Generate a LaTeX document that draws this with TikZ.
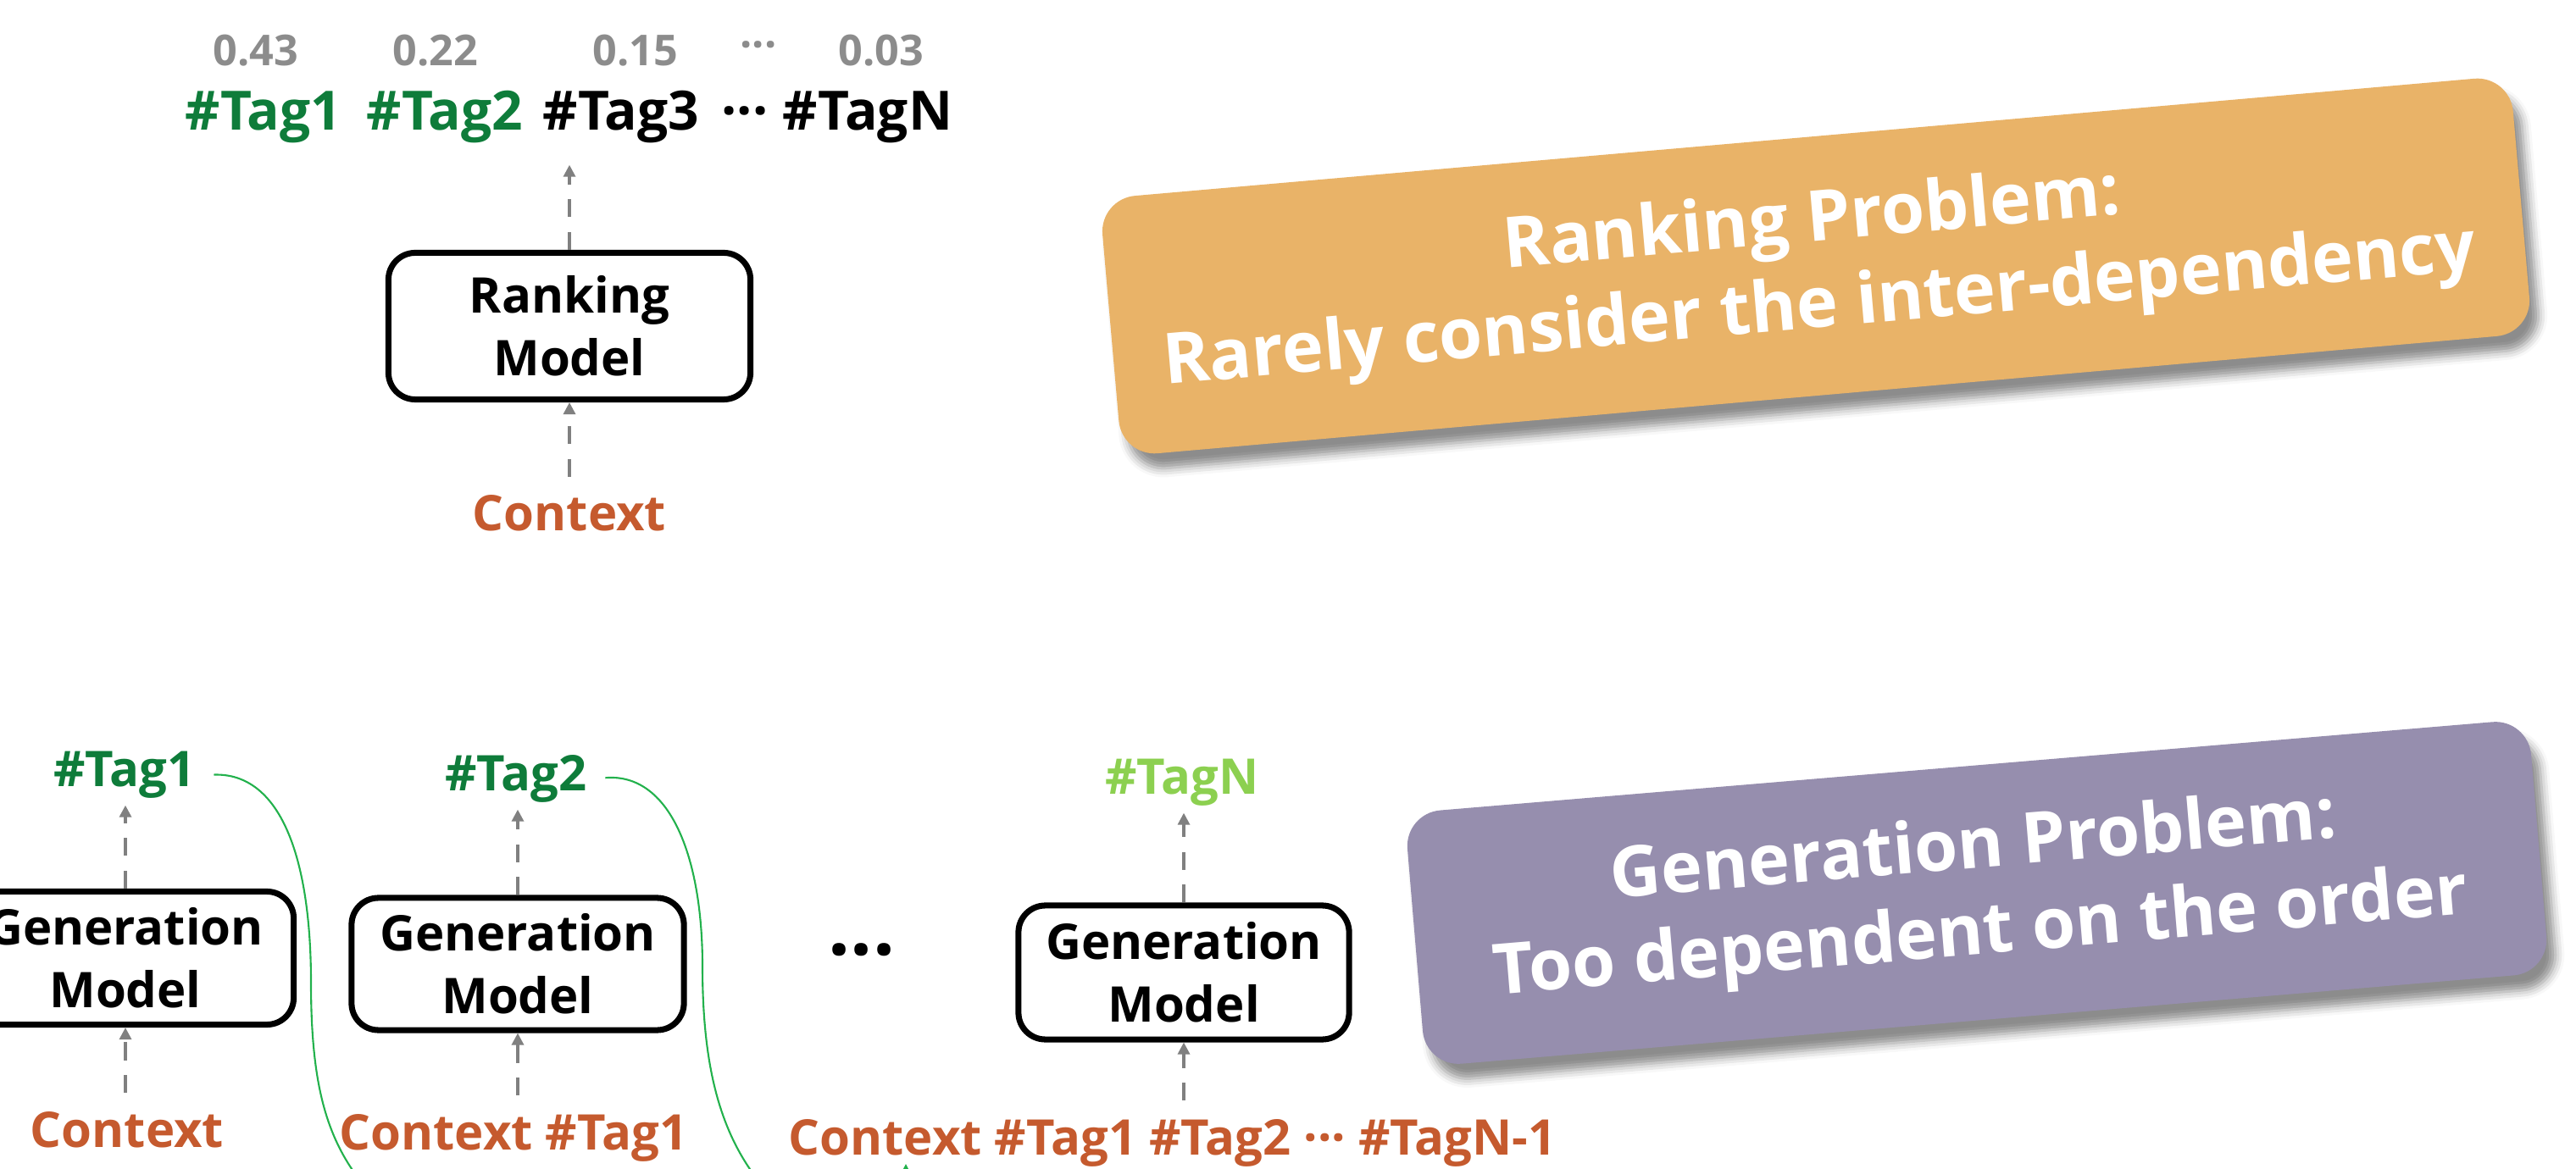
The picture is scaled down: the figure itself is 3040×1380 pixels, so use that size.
\documentclass[tikz,border=0pt]{standalone}
\usepackage{fontspec}
\setmainfont{Open Sans}
\usepackage{tikz}
\usetikzlibrary{arrows.meta,positioning,shadows.blur}
\definecolor{tagGreen}{RGB}{14,124,58}
\definecolor{tagLime}{RGB}{140,208,80}
\definecolor{ctxOrange}{RGB}{197,90,46}
\definecolor{scoreGray}{RGB}{140,140,140}
\definecolor{linkGreen}{RGB}{34,177,76}
\definecolor{rankOrange}{RGB}{233,179,104}
\definecolor{genPurple}{RGB}{150,142,174}
\newcommand{\midots}{···}
\tikzset{
  model/.style={draw,line width=2pt,rounded corners=9pt,align=center,inner sep=0pt,
    font=\fontsize{16.5}{21}\selectfont\bfseries},
  tagtxt/.style={anchor=base,inner sep=0pt,font=\fontsize{18.2}{20}\selectfont\bfseries},
  gentag/.style={anchor=base,inner sep=0pt,font=\fontsize{16.5}{20}\selectfont\bfseries},
  score/.style={inner sep=0pt,text=scoreGray,font=\fontsize{14.3}{16}\selectfont\bfseries},
  ctxtxt/.style={anchor=base,inner sep=0pt,text=ctxOrange,font=\fontsize{16.5}{20}\selectfont\bfseries},
  flow/.style={draw=gray,line width=0.9pt,dash pattern=on 6pt off 5pt,-{Triangle[width=4pt,length=4pt]}},
  link/.style={draw=linkGreen,line width=0.6pt,-{Triangle[width=5pt,length=5pt]}},
  problem/.style={rounded corners=12pt,text=white,align=center,inner sep=0pt,
    font=\fontsize{23.6}{29}\selectfont\bfseries,
    blur shadow={shadow xshift=3pt,shadow yshift=-5pt,shadow blur radius=3pt,shadow opacity=45}},
}
\begin{document}
\begin{tikzpicture}[x=0.01cm,y=-0.01cm]
\useasboundingbox (0,0) rectangle (3040,1380);
\clip (0,0) rectangle (3040,1380);

% ranking
\node[score] (s1) at (302,60) {0.43};
\node[score] (s2) at (514,60) {0.22};
\node[score] (s3) at (750,60) {0.15};
\node[score] (sdots) at (895,60) {\midots};
\node[score] (s4) at (1040,60) {0.03};
\node[tagtxt,text=tagGreen] (t1) at (311,154) {\#Tag1};
\node[tagtxt,text=tagGreen] (t2) at (525,154) {\#Tag2};
\node[tagtxt] (t3) at (733,154) {\#Tag3};
\node[tagtxt] (tdots) at (879,154) {\midots};
\node[tagtxt] (tN) at (1024,154) {\#TagN};
\node[model,minimum width=4.27cm,minimum height=1.73cm] (rank) at (672,385) {Ranking\\Model};
\node[ctxtxt] (ctx) at (672,627) {Context};
\draw[flow,shorten <=6pt] (ctx) -- (rank);
\draw[flow,shorten >=7pt] (rank) -- (rank.north |- t3.south);

% generation
\node[model,minimum width=3.97cm,minimum height=1.57cm] (gen1) at (148,1131) {Generation\\Model};
\node[model,minimum width=3.92cm,minimum height=1.56cm] (gen2) at (611,1138) {Generation\\Model};
\node[model,minimum width=3.9cm,minimum height=1.58cm] (gen3) at (1397,1148) {Generation\\Model};
\node[font=\fontsize{26}{28}\selectfont\bfseries] (gdots) at (1017,1134) {\midots};
\node[gentag,text=tagGreen] (g1tag) at (147,929) {\#Tag1};
\node[gentag,text=tagGreen] (g2tag) at (609,934) {\#Tag2};
\node[gentag,text=tagLime] (gNtag) at (1395,938) {\#TagN};
\node[ctxtxt] (c1) at (150,1354) {Context};
\node[ctxtxt] (c2) at (606,1357) {Context \#Tag1};
\node[ctxtxt,anchor=base west] (c3) at (930,1363) {Context \#Tag1 \#Tag2 \midots{} \#TagN-1};
\draw[flow,shorten <=6pt] (gen1.south |- c1.north) -- (gen1.south);
\draw[flow,shorten <=6pt] (gen2.south |- c2.north) -- (gen2.south);
\draw[flow,shorten <=6pt] (gen3.south |- c3.north) -- (gen3.south);
\draw[flow,shorten >=2pt] (gen1) -- (gen1.north |- g1tag.south);
\draw[flow,shorten >=2pt] (gen2) -- (gen2.north |- g2tag.south);
\draw[flow,shorten >=2pt] (gen3) -- (gen3.north |- gNtag.south);

\coordinate (e1) at (640,1425);
\coordinate (e2) at (1069,1374);
\draw[link,shorten <=6pt] (g1tag.east) .. controls (330,912) and (367,1010) .. (367,1160)
  .. controls (367,1280) and (385,1345) .. (430,1400) .. controls (480,1470) and (640,1480) .. (e1);
\draw[link,shorten <=6pt] (g2tag.east) .. controls (790,912) and (829,1010) .. (829,1141)
  .. controls (829,1260) and (850,1340) .. (900,1400) .. controls (960,1470) and (1069,1450) .. (e2);

% problems
\node[problem,fill=rankOrange,rotate=5,minimum width=16.7cm,minimum height=3.05cm] (rankprob) at (2143,314)
  {Ranking Problem:\\Rarely consider the inter-dependency};
\node[problem,fill=genPurple,rotate=4.8,minimum width=13.3cm,minimum height=3cm] (genprob) at (2333,1054)
  {Generation Problem:\\Too dependent on the order};
\end{tikzpicture}
\end{document}
